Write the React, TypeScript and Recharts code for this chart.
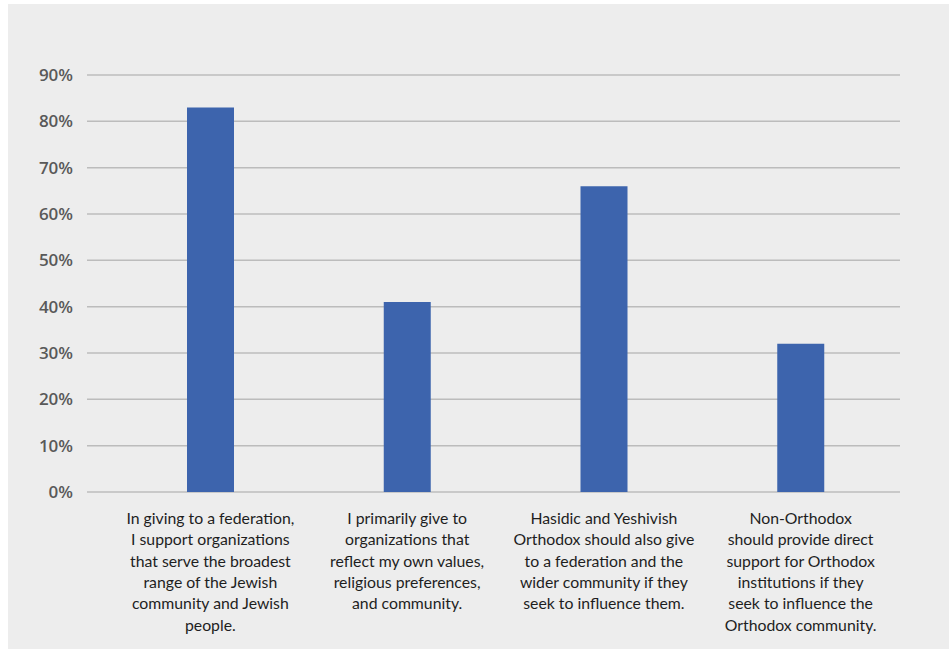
import { BarChart, Bar, XAxis, YAxis, CartesianGrid } from "recharts"

const statements: string[][] = [
  ["In giving to a federation,", "I support organizations", "that serve the broadest", "range of the Jewish", "community and Jewish", "people."],
  ["I primarily give to", "organizations that", "reflect my own values,", "religious preferences,", "and community."],
  ["Hasidic and Yeshivish", "Orthodox should also give", "to a federation and the", "wider community if they", "seek to influence them."],
  ["Non-Orthodox", "should provide direct", "support for Orthodox", "institutions if they", "seek to influence the", "Orthodox community."],
]

const agreePct = [83, 41, 66, 32]

const yTicks = [0, 10, 20, 30, 40, 50, 60, 70, 80, 90]

const data = statements.map((lines, i) => ({ key: String(i), lines, value: agreePct[i] }))

function CategoryTick(props: any) {
  const { x, y, payload } = props
  const lines: string[] = statements[Number(payload.value)] || []
  return (
    <text x={x} y={y + 32} textAnchor="middle" fill="#1e1e1e" fontFamily="Lato, 'Open Sans', sans-serif" fontSize={15.8}>
      {lines.map((l, i) => (
        <tspan key={i} x={x} dy={i === 0 ? 0 : 21.3}>{l}</tspan>
      ))}
    </text>
  )
}

export default function App() {
  return (
    <div style={{ position: "absolute", left: 8, top: 4, width: 941, height: 645, background: "#ededed" }}>
      <BarChart width={941} height={645} data={data} margin={{ top: 71, right: 49, left: 0, bottom: 0 }}>
        <CartesianGrid vertical={false} stroke="#bcbcbc" strokeWidth={1.5} />
        <XAxis
          dataKey="key"
          axisLine={false}
          tickLine={false}
          tickSize={0}
          tickMargin={0}
          height={157}
          interval={0}
          padding={{ left: 25, right: 1 }}
          tick={<CategoryTick />}
        />
        <YAxis
          domain={[0, 90]}
          ticks={yTicks}
          width={79}
          axisLine={false}
          tickLine={false}
          tickSize={0}
          tickMargin={14}
          tickFormatter={(v: number) => `${v}%`}
          tick={{ fill: "#595959", fontSize: 17, fontWeight: 600, fontFamily: "'Open Sans', sans-serif" }}
        />
        <Bar dataKey="value" fill="#3d64ad" barSize={47} isAnimationActive={false} />
      </BarChart>
    </div>
  )
}
